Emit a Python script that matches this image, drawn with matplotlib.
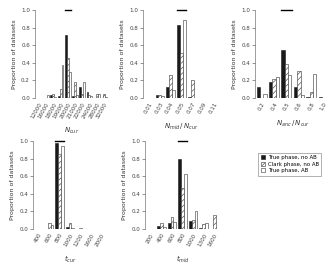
import numpy as np
import matplotlib
matplotlib.use('Agg')
import matplotlib.pyplot as plt

plt.rcParams['font.family'] = ['DejaVu Sans']
plt.rcParams['hatch.linewidth'] = 0.4

# panel data: categories, true phase no AB, clark phase no AB, true phase AB
ncur_cats = ['12000', '16000', '18000', '19000', '20000', '21000', '22000', '24000', '28000', '32000']
ncur_true = [0.005, 0.0, 0.03, 0.02, 0.72, 0.02, 0.12, 0.07, 0.0, 0.0]
ncur_clark = [0.0, 0.0, 0.04, 0.10, 0.45, 0.18, 0.05, 0.03, 0.04, 0.05]
ncur_ab = [0.0, 0.03, 0.01, 0.37, 0.30, 0.03, 0.18, 0.02, 0.04, 0.01]
ncur_truth = 4

nmid_cats = ['0.01', '0.03', '0.04', '0.05', '0.07', '0.09', '0.11']
nmid_true = [0.0, 0.03, 0.12, 0.83, 0.01, 0.0, 0.0]
nmid_clark = [0.0, 0.03, 0.26, 0.51, 0.20, 0.0, 0.0]
nmid_ab = [0.0, 0.02, 0.09, 0.89, 0.0, 0.0, 0.0]
nmid_truth = 3

nanc_cats = ['0.2', '0.4', '0.5', '0.6', '0.8', '1.0']
nanc_true = [0.12, 0.18, 0.54, 0.13, 0.01, 0.01]
nanc_clark = [0.0, 0.22, 0.39, 0.31, 0.07, 0.0]
nanc_ab = [0.04, 0.24, 0.26, 0.03, 0.27, 0.0]
nanc_truth = 2

tcur_cats = ['400', '600', '800', '1000', '1200', '1600', '2000']
tcur_true = [0.0, 0.0, 0.98, 0.02, 0.0, 0.0, 0.0]
tcur_clark = [0.0, 0.07, 0.85, 0.07, 0.01, 0.0, 0.0]
tcur_ab = [0.0, 0.04, 0.94, 0.01, 0.0, 0.0, 0.0]
tcur_truth = 2

tmid_cats = ['200', '400', '600', '800', '1000', '1300', '1600']
tmid_true = [0.0, 0.03, 0.07, 0.79, 0.09, 0.01, 0.0]
tmid_clark = [0.0, 0.07, 0.14, 0.47, 0.10, 0.06, 0.16]
tmid_ab = [0.0, 0.02, 0.08, 0.62, 0.20, 0.07, 0.0]
tmid_truth = 3

xlabels = [r'$N_{cur}$', r'$N_{mid}\,/\,N_{cur}$', r'$N_{anc}\,/\,N_{cur}$',
           r'$t_{cur}$', r'$t_{mid}$']
legend_labels = ['True phase, no AB', 'Clark phase, no AB', 'True phase, AB']

fig = plt.figure(figsize=(3.32, 2.64), dpi=100)

# axes rectangles [left, bottom, width, height]
rects = [[0.105, 0.629, 0.22, 0.333],
         [0.431, 0.629, 0.232, 0.333],
         [0.768, 0.629, 0.227, 0.333],
         [0.100, 0.133, 0.222, 0.333],
         [0.437, 0.133, 0.226, 0.333]]

panels = [(ncur_cats, ncur_true, ncur_clark, ncur_ab, ncur_truth),
          (nmid_cats, nmid_true, nmid_clark, nmid_ab, nmid_truth),
          (nanc_cats, nanc_true, nanc_clark, nanc_ab, nanc_truth),
          (tcur_cats, tcur_true, tcur_clark, tcur_ab, tcur_truth),
          (tmid_cats, tmid_true, tmid_clark, tmid_ab, tmid_truth)]

w = 0.27
handles = None
for k, (cats, a, b, c, truth) in enumerate(panels):
    ax = fig.add_axes(rects[k])
    x = np.arange(len(cats))
    h1 = ax.bar(x - w, a, w, color='#1a1a1a', edgecolor='#1a1a1a', lw=0.4)
    h2 = ax.bar(x, b, w, color='white', edgecolor='#333333', hatch='//////', lw=0.4)
    h3 = ax.bar(x + w, c, w, color='white', edgecolor='#333333', lw=0.4)
    if handles is None:
        handles = [h1, h2, h3]
    ax.plot([truth - 0.45, truth + 0.45], [1.0, 1.0], color='black', lw=1.0, clip_on=False)
    ax.set_xlim(-0.55, len(cats) - 0.45)
    ax.set_ylim(0, 1.0)
    ax.set_yticks([0, 0.2, 0.4, 0.6, 0.8, 1.0])
    ax.set_yticklabels(['0.0', '0.2', '0.4', '0.6', '0.8', '1.0'])
    ax.set_xticks(x)
    ax.set_xticklabels(cats, rotation=60, ha='right', rotation_mode='anchor')
    ax.tick_params(axis='both', labelsize=4.1, length=2, width=0.4, pad=1.5, colors='#444444')
    ax.tick_params(axis='x', length=0, pad=2.5)
    for s in ['top', 'right', 'bottom']:
        ax.spines[s].set_visible(False)
    ax.spines['left'].set_linewidth(0.4)
    ax.spines['left'].set_color('#555555')
    ax.set_ylabel('Proportion of datasets', fontsize=4.5, color='#333333', labelpad=3)
    ax.set_xlabel(xlabels[k], fontsize=5, color='#333333', labelpad=5)

leg = fig.legend(handles, legend_labels, loc='upper left', bbox_to_anchor=(0.778, 0.422),
                 fontsize=3.9, frameon=True, fancybox=False, edgecolor='#555555',
                 handlelength=0.7, handleheight=0.7, handletextpad=0.6,
                 labelspacing=0.3, borderpad=0.45, borderaxespad=0)
leg.get_frame().set_linewidth(0.4)

fig.savefig('out.png', dpi=100)
